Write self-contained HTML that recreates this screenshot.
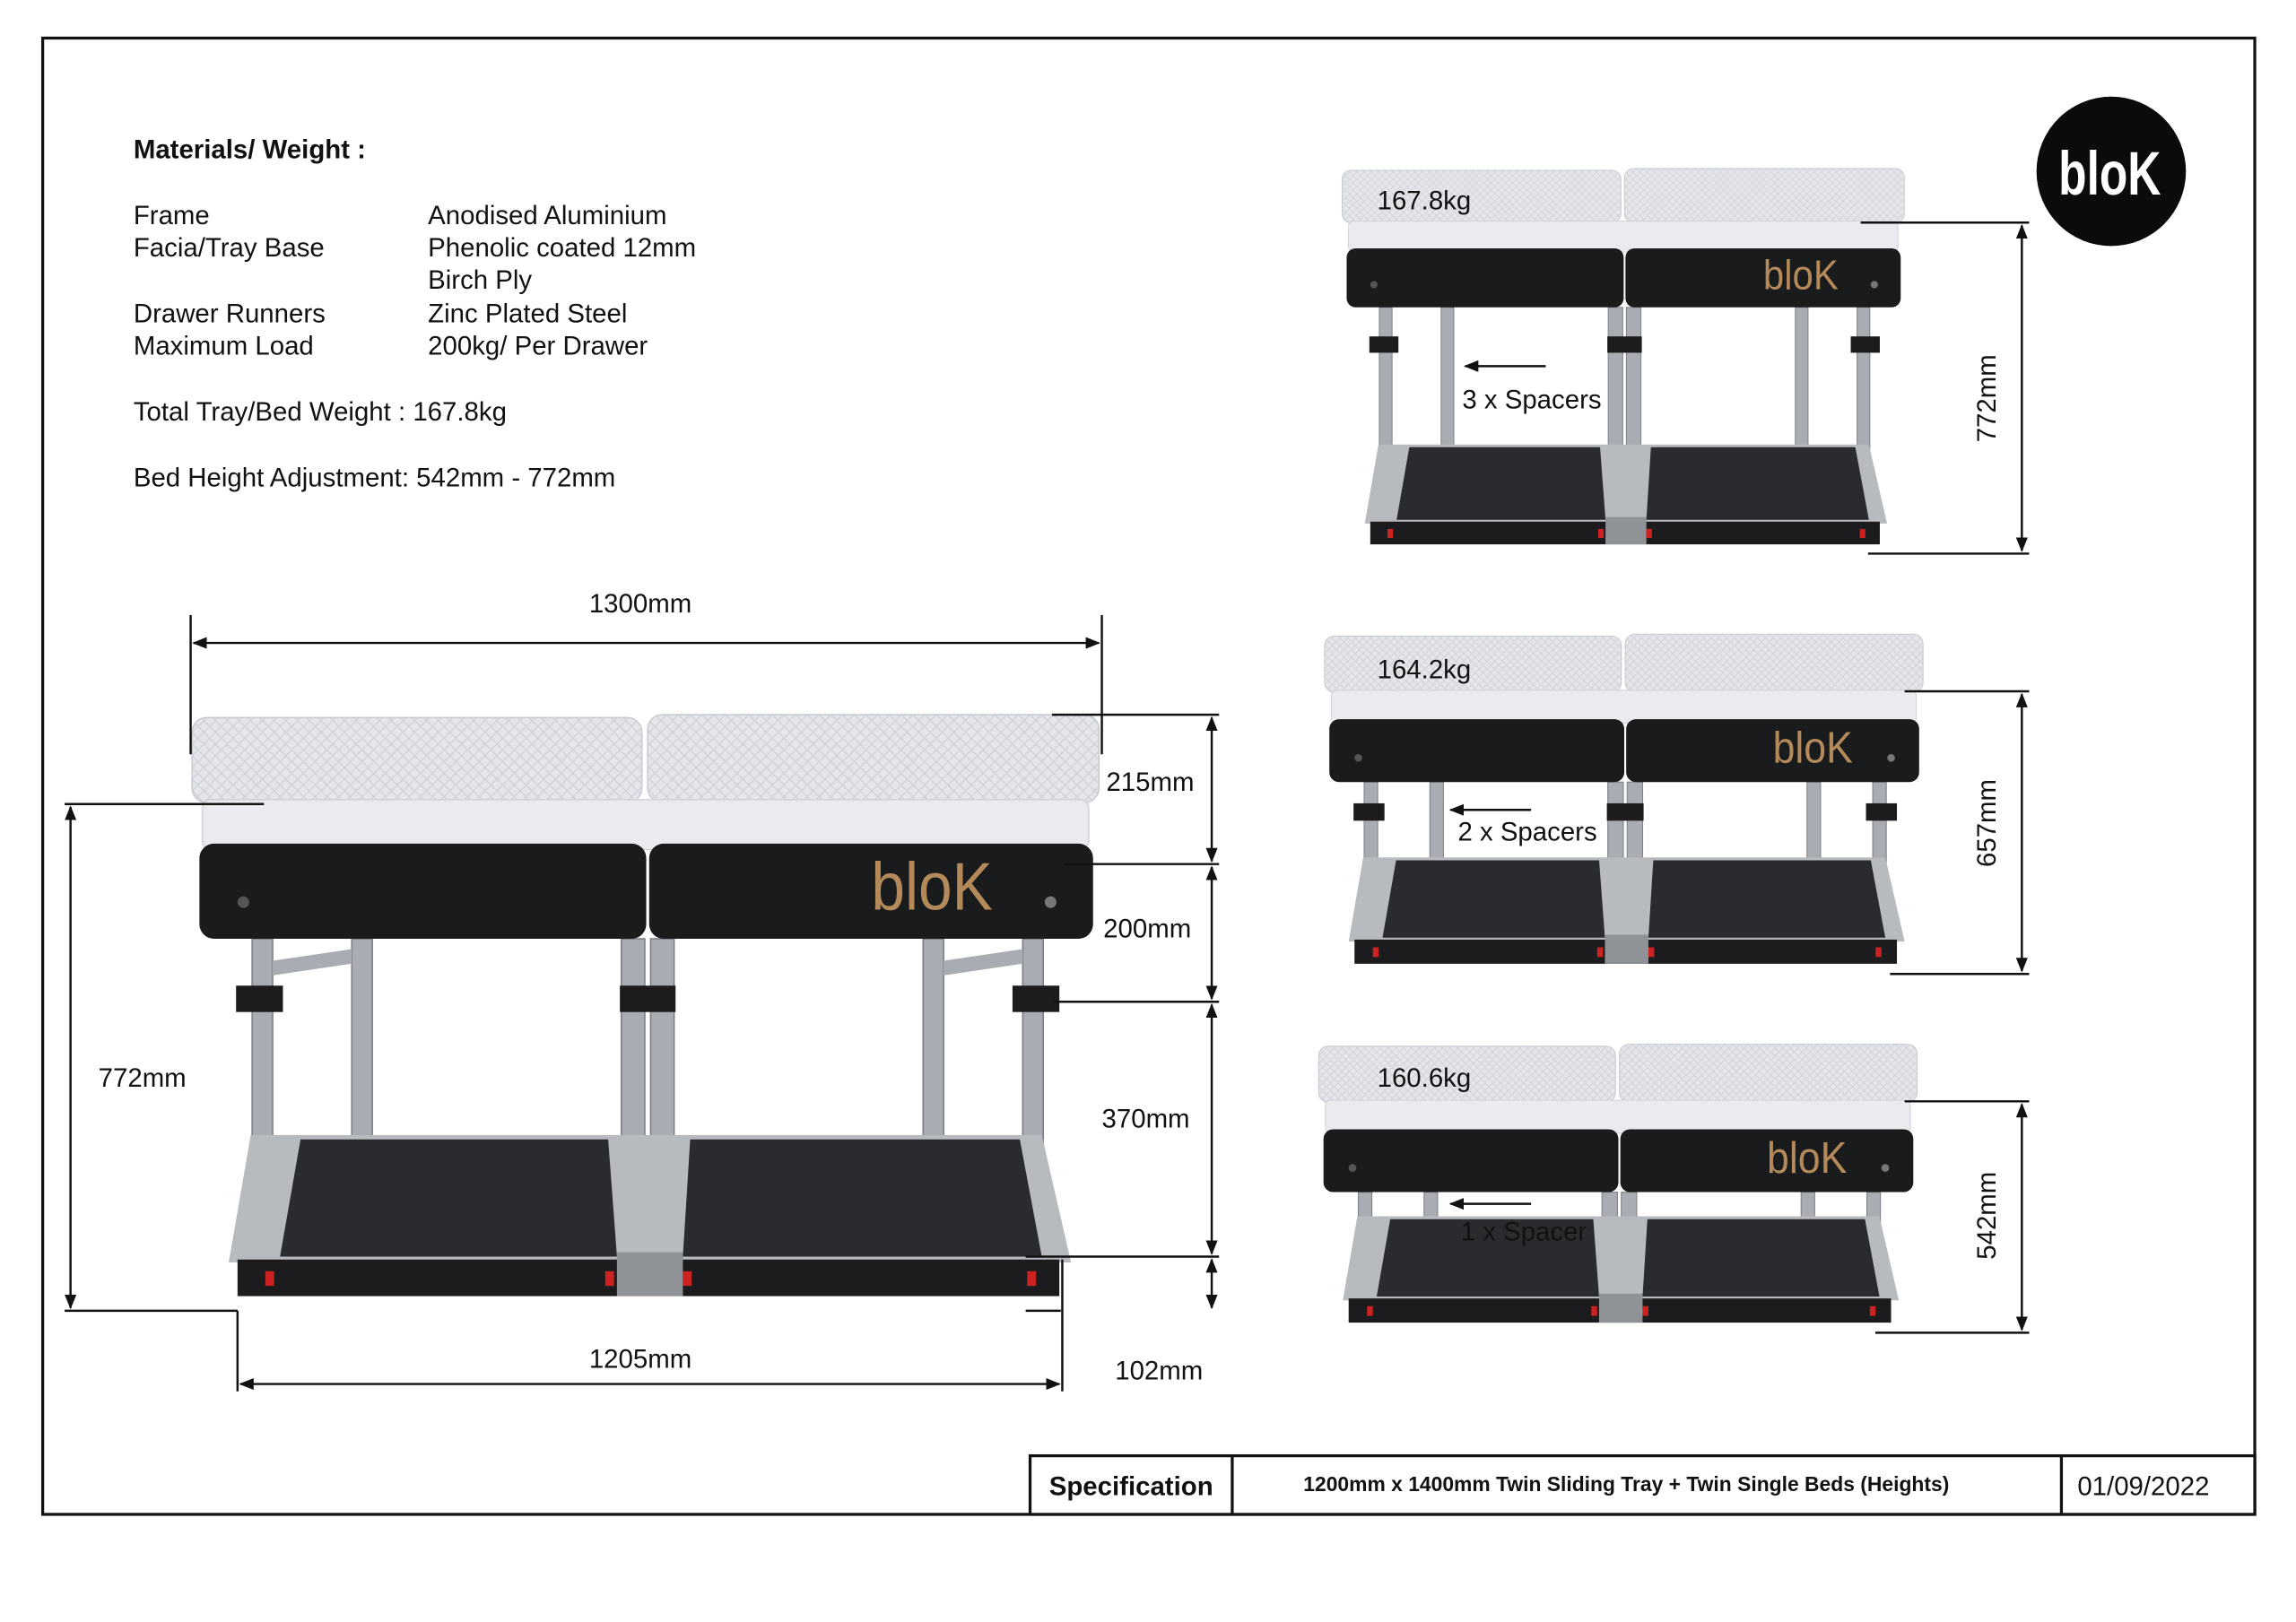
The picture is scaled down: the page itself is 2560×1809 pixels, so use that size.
<!DOCTYPE html>
<html><head><meta charset="utf-8"><style>
html,body{margin:0;padding:0;background:#fff;}
svg{display:block;}
text{font-family:"Liberation Sans",Arial,sans-serif;fill:#111;}
</style></head><body>
<svg width="2560" height="1809" viewBox="0 0 1567 1107.5" xmlns="http://www.w3.org/2000/svg">
<defs>
<marker id="ar" markerWidth="10" markerHeight="8" refX="9" refY="4" orient="auto-start-reverse" markerUnits="userSpaceOnUse">
<path d="M0,0 L10,4 L0,8 z" fill="#111"/></marker>
<pattern id="quilt" width="8" height="8" patternUnits="userSpaceOnUse">
<rect width="8" height="8" fill="#e4e6ea"/><path d="M0,4 L4,0 L8,4 L4,8 z" fill="none" stroke="#cfd2d8" stroke-width="0.8"/></pattern>
<g id="top">
<rect x="0" y="2" width="307" height="58" rx="10" fill="url(#quilt)" stroke="#c8ccd2"/>
<rect x="311" y="0" width="308" height="60" rx="10" fill="url(#quilt)" stroke="#c8ccd2"/>
<rect x="7" y="58" width="605" height="34" rx="6" fill="#e9ebee" stroke="#d0d3d8"/>
<rect x="5" y="88" width="305" height="65" rx="10" fill="#1a1b1d"/>
<rect x="312" y="88" width="303" height="65" rx="10" fill="#1a1b1d"/>
<text x="505" y="133" font-size="46" style="fill:#b48a5a" text-anchor="middle" transform="translate(505,0) scale(0.9,1) translate(-505,0)">bloK</text>
<circle cx="35" cy="128" r="4" fill="#555"/><circle cx="586" cy="128" r="4" fill="#777"/>
</g>
<g id="tray">
<path d="M40,5 L580,5 L600,92 L25,92 z" fill="#b7babf"/>
<path d="M74,8 L284,8 L290,88 L60,88 z" fill="#2a2b2e"/>
<path d="M340,8 L565,8 L580,88 L335,88 z" fill="#2a2b2e"/>
<rect x="31" y="90" width="561" height="25" fill="#1c1c1e"/>
<rect x="290" y="85" width="45" height="30" fill="#8f9297"/>
<rect x="50" y="98" width="6" height="10" fill="#c22"/><rect x="282" y="98" width="6" height="10" fill="#c22"/>
<rect x="335" y="98" width="6" height="10" fill="#c22"/><rect x="570" y="98" width="6" height="10" fill="#c22"/>
</g>
</defs>

<rect x="29" y="26" width="1510" height="1008" fill="none" stroke="#111" stroke-width="2"/>

<text x="91" y="108" font-size="18" font-weight="bold">Materials/ Weight :</text>
<g font-size="18">
<text x="91" y="153">Frame</text><text x="292" y="153">Anodised Aluminium</text>
<text x="91" y="175">Facia/Tray Base</text><text x="292" y="175">Phenolic coated 12mm</text>
<text x="292" y="197">Birch Ply</text>
<text x="91" y="220">Drawer Runners</text><text x="292" y="220">Zinc Plated Steel</text>
<text x="91" y="242">Maximum Load</text><text x="292" y="242">200kg/ Per Drawer</text>
<text x="91" y="287">Total Tray/Bed Weight :  167.8kg</text>
<text x="91" y="332">Bed Height Adjustment: 542mm - 772mm</text>
</g>

<g transform="translate(131,488)">
<g fill="#a9adb3" stroke="#7d8187" stroke-width="1">
<rect x="41" y="153" width="14" height="224"/><rect x="109" y="153" width="14" height="224"/>
<rect x="293" y="153" width="16" height="224"/><rect x="313" y="153" width="16" height="224"/>
<rect x="499" y="153" width="14" height="224"/><rect x="567" y="153" width="14" height="224"/>
</g>
<g fill="#1c1c1e"><rect x="30" y="185" width="32" height="18"/><rect x="292" y="185" width="38" height="18"/><rect x="560" y="185" width="32" height="18"/></g>
<path d="M55,168 L109,160 L109,170 L55,178z M513,168 L567,160 L567,170 L513,178z" fill="#a9adb3"/>
<use href="#tray" y="282"/>
<use href="#top"/>
</g>

<g transform="translate(916,115) scale(0.62)">
<g fill="#a9adb3" stroke="#7d8187"><rect x="41" y="153" width="14" height="241"/><rect x="109" y="153" width="14" height="241"/><rect x="293" y="153" width="16" height="241"/><rect x="313" y="153" width="16" height="241"/><rect x="499" y="153" width="14" height="241"/><rect x="567" y="153" width="14" height="241"/></g>
<g fill="#1c1c1e"><rect x="30" y="185" width="32" height="18"/><rect x="292" y="185" width="38" height="18"/><rect x="560" y="185" width="32" height="18"/></g>
<use href="#tray" y="299"/><use href="#top"/></g>
<g transform="translate(904,433) scale(0.66)">
<g fill="#a9adb3" stroke="#7d8187"><rect x="41" y="153" width="14" height="168"/><rect x="109" y="153" width="14" height="168"/><rect x="293" y="153" width="16" height="168"/><rect x="313" y="153" width="16" height="168"/><rect x="499" y="153" width="14" height="168"/><rect x="567" y="153" width="14" height="168"/></g>
<g fill="#1c1c1e"><rect x="30" y="175" width="32" height="18"/><rect x="292" y="175" width="38" height="18"/><rect x="560" y="175" width="32" height="18"/></g>
<use href="#tray" y="226"/><use href="#top"/></g>
<g transform="translate(900,713) scale(0.66)">
<g fill="#a9adb3" stroke="#7d8187"><rect x="41" y="153" width="14" height="115"/><rect x="109" y="153" width="14" height="115"/><rect x="293" y="153" width="16" height="115"/><rect x="313" y="153" width="16" height="115"/><rect x="499" y="153" width="14" height="115"/><rect x="567" y="153" width="14" height="115"/></g>
<use href="#tray" y="173"/><use href="#top"/></g>

<g stroke="#111" stroke-width="1.5" fill="none">
<line x1="130" y1="420" x2="130" y2="515"/><line x1="752" y1="420" x2="752" y2="515"/>
<line x1="132" y1="439" x2="750" y2="439" marker-start="url(#ar)" marker-end="url(#ar)"/>
<line x1="718" y1="488" x2="832" y2="488"/><line x1="726" y1="590" x2="832" y2="590"/>
<line x1="718" y1="684" x2="832" y2="684"/><line x1="700" y1="858" x2="832" y2="858"/>
<line x1="827" y1="490" x2="827" y2="588" marker-start="url(#ar)" marker-end="url(#ar)"/>
<line x1="827" y1="592" x2="827" y2="682" marker-start="url(#ar)" marker-end="url(#ar)"/>
<line x1="827" y1="686" x2="827" y2="856" marker-start="url(#ar)" marker-end="url(#ar)"/>
<line x1="827" y1="860" x2="827" y2="893" marker-start="url(#ar)" marker-end="url(#ar)"/>
<line x1="44" y1="549" x2="180" y2="549"/><line x1="44" y1="895" x2="162" y2="895"/>
<line x1="700" y1="895" x2="724" y2="895"/>
<line x1="48" y1="551" x2="48" y2="893" marker-start="url(#ar)" marker-end="url(#ar)"/>
<line x1="162" y1="895" x2="162" y2="950"/><line x1="725" y1="860" x2="725" y2="950"/>
<line x1="164" y1="945" x2="723" y2="945" marker-start="url(#ar)" marker-end="url(#ar)"/>
<line x1="1270" y1="152" x2="1385" y2="152"/><line x1="1275" y1="378" x2="1385" y2="378"/>
<line x1="1380" y1="154" x2="1380" y2="376" marker-start="url(#ar)" marker-end="url(#ar)"/>
<line x1="1300" y1="472" x2="1385" y2="472"/><line x1="1290" y1="665" x2="1385" y2="665"/>
<line x1="1380" y1="474" x2="1380" y2="663" marker-start="url(#ar)" marker-end="url(#ar)"/>
<line x1="1300" y1="752" x2="1385" y2="752"/><line x1="1280" y1="910" x2="1385" y2="910"/>
<line x1="1380" y1="754" x2="1380" y2="908" marker-start="url(#ar)" marker-end="url(#ar)"/>
<line x1="1000" y1="250" x2="1055" y2="250" marker-start="url(#ar)"/>
<line x1="990" y1="553" x2="1045" y2="553" marker-start="url(#ar)"/>
<line x1="990" y1="822" x2="1045" y2="822" marker-start="url(#ar)"/>
</g>
<g font-size="18">
<text x="437" y="418" text-anchor="middle">1300mm</text>
<text x="755" y="540">215mm</text><text x="753" y="640">200mm</text>
<text x="752" y="770">370mm</text><text x="761" y="942">102mm</text>
<text x="67" y="742">772mm</text><text x="437" y="934" text-anchor="middle">1205mm</text>
<text x="940" y="143">167.8kg</text><text x="940" y="463">164.2kg</text><text x="940" y="742">160.6kg</text>
<text x="998" y="279">3 x Spacers</text><text x="995" y="574">2 x Spacers</text><text x="997" y="847">1 x Spacer</text>
<text transform="translate(1362,272) rotate(-90)" text-anchor="middle">772mm</text>
<text transform="translate(1362,562) rotate(-90)" text-anchor="middle">657mm</text>
<text transform="translate(1362,830) rotate(-90)" text-anchor="middle">542mm</text>
</g>

<circle cx="1441" cy="117" r="51" fill="#0b0b0b"/>
<text x="1440" y="133" font-size="42" font-weight="bold" text-anchor="middle" style="fill:#fff" transform="translate(1440,0) scale(0.75,1) translate(-1440,0)">bloK</text>

<rect x="703" y="994" width="836" height="40" fill="#fff" stroke="#111" stroke-width="2"/>
<line x1="841" y1="994" x2="841" y2="1034" stroke="#111" stroke-width="2"/>
<line x1="1407" y1="994" x2="1407" y2="1034" stroke="#111" stroke-width="2"/>
<text x="772" y="1021" font-size="18" font-weight="bold" text-anchor="middle">Specification</text>
<text x="1110" y="1018" font-size="14" font-weight="bold" text-anchor="middle">1200mm x 1400mm Twin Sliding Tray + Twin Single Beds (Heights)</text>
<text x="1463" y="1021" font-size="18" text-anchor="middle">01/09/2022</text>
</svg>
</body></html>
